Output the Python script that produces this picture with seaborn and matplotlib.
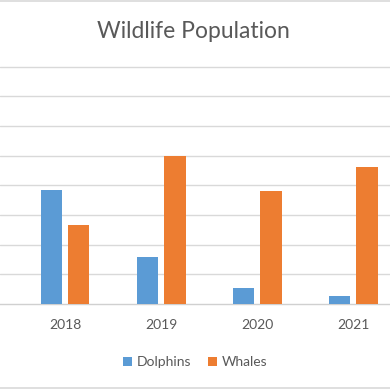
import matplotlib
matplotlib.use("Agg")
import matplotlib.pyplot as plt
from matplotlib.lines import Line2D
import seaborn as sns
import pandas as pd

years = ["2018", "2019", "2020", "2021"]
dolphins = [3.85, 1.6, 0.55, 0.27]
whales = [2.65, 5.0, 3.8, 4.6]
series = ["Dolphins", "Whales"]
title = "Wildlife Population"

df = pd.DataFrame({
    "Year": years * 2,
    "Value": dolphins + whales,
    "Series": [series[0]] * len(years) + [series[1]] * len(years),
})

sns.set_theme(style="white")
plt.rcParams["font.family"] = ["Lato", "DejaVu Sans"]

fig = plt.figure(figsize=(3.9, 3.9), dpi=100)
ax = fig.add_axes([0, (390 - 304) / 390, 1, (304 - 66) / 390])

sns.barplot(data=df, x="Year", y="Value", hue="Series", order=years,
            hue_order=series, palette=["#5B9BD5", "#ED7D31"],
            width=0.57, gap=0.21, ax=ax, saturation=1, errorbar=None,
            linewidth=0, zorder=3)

ax.set_ylim(0, 8.02)
ax.set_xlim(-0.677, 3.385)
ax.set_yticks(range(1, 9))
ax.yaxis.grid(True, color="#D9D9D9", linewidth=1)
ax.set_axisbelow(True)
ax.tick_params(axis="y", left=False, labelleft=False)
ax.tick_params(axis="x", bottom=False, labelsize=10, labelcolor="#595959", pad=5)
for s in ["top", "left", "right"]:
    ax.spines[s].set_visible(False)
ax.spines["bottom"].set_color("#D0D0D0")
ax.spines["bottom"].set_linewidth(1)
ax.set_xlabel("")
ax.set_ylabel("")

leg = ax.legend(loc="center", bbox_to_anchor=(0.5, -0.245), ncol=2, frameon=False,
                fontsize=10, handlelength=0.7, handleheight=0.7,
                handletextpad=0.3, columnspacing=1.2)
for t in leg.get_texts():
    t.set_color("#595959")

fig.text(0.495, (390 - 31) / 390, title, ha="center", va="center",
         fontsize=16.5, color="#595959")

fig.add_artist(Line2D([0, 1], [0.998, 0.998], color="#D9D9D9", linewidth=1.2,
                      transform=fig.transFigure))
fig.add_artist(Line2D([0, 1], [0.004, 0.004], color="#D9D9D9", linewidth=1.2,
                      transform=fig.transFigure))

fig.savefig("out.png", dpi=100, facecolor="white")
